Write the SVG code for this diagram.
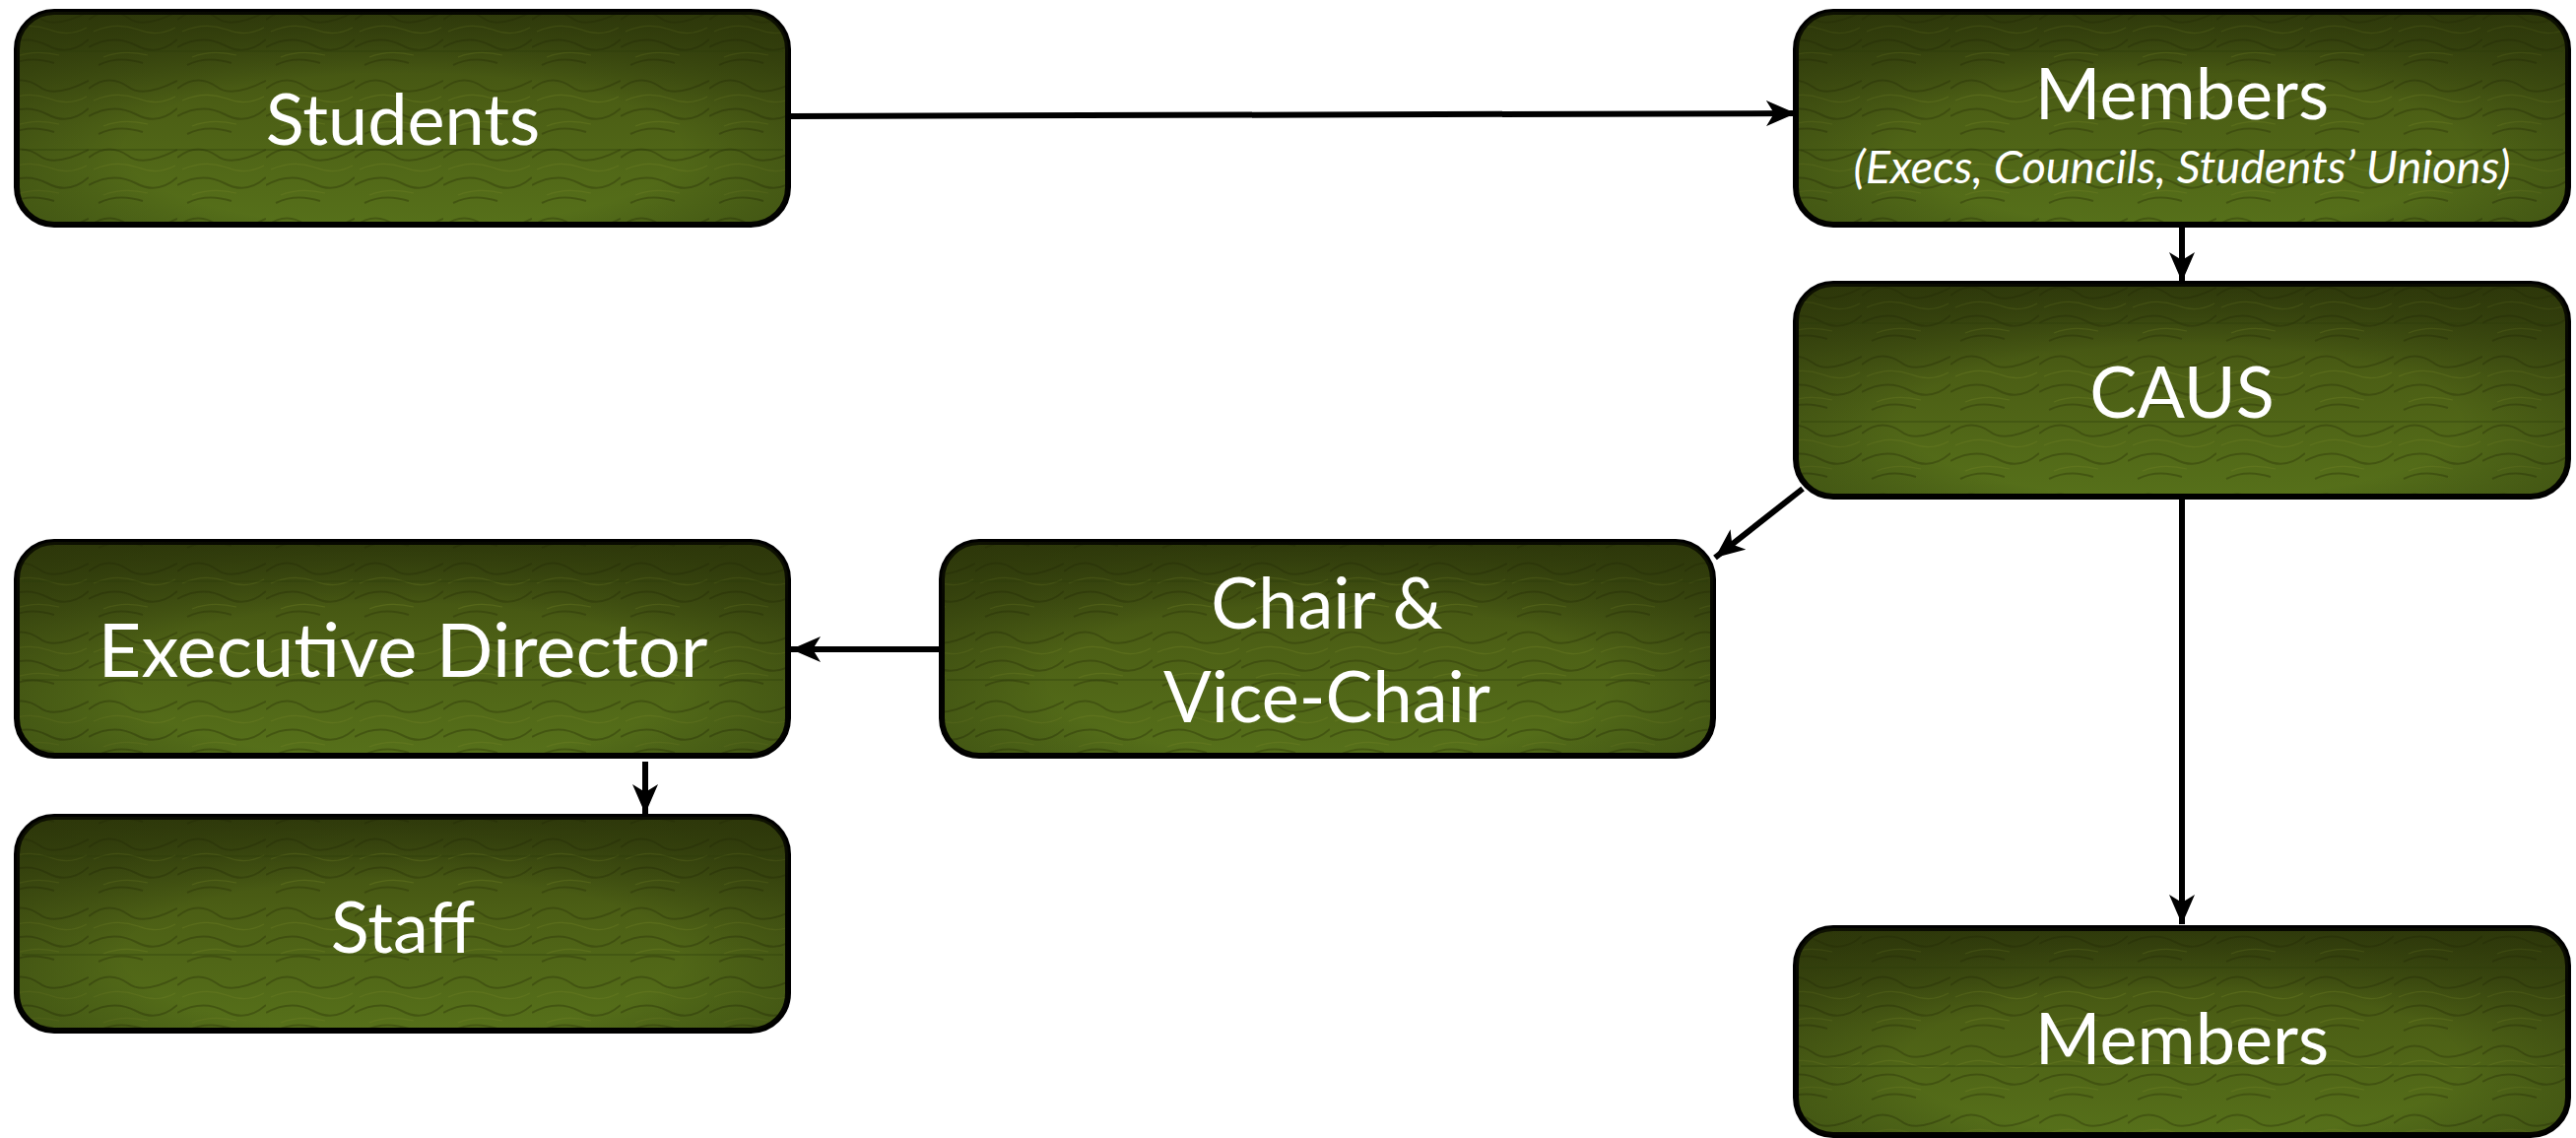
<svg xmlns="http://www.w3.org/2000/svg" width="2615" height="1155" viewBox="0 0 2615 1155">
<style>
.box{stroke:#000;stroke-width:6}
.tex{fill:url(#tex);stroke:none;opacity:0.4}
.band{fill:none;stroke:#2c3a0a;stroke-width:2;opacity:0.3}
.t{font-family:"Lato","Open Sans","DejaVu Sans",sans-serif;fill:#fff;text-anchor:middle;font-size:72px}
.s{font-family:"Lato","Open Sans","DejaVu Sans",sans-serif;fill:#fff;text-anchor:middle;font-size:47px;font-style:italic}
.c{stroke:#000;stroke-width:6;fill:none;marker-end:url(#ah)}
</style>
<defs>
<linearGradient id="g" x1="0" y1="0" x2="0" y2="1">
<stop offset="0" stop-color="#3c4a0f"/>
<stop offset="0.45" stop-color="#4c5f15"/>
<stop offset="1" stop-color="#56701a"/>
</linearGradient>
<radialGradient id="v" cx="0.5" cy="0.65" r="0.8">
<stop offset="0.45" stop-color="#000" stop-opacity="0"/>
<stop offset="1" stop-color="#1e2404" stop-opacity="0.5"/>
</radialGradient>
<pattern id="tex" width="90" height="70" patternUnits="userSpaceOnUse">
<path d="M0,20 Q20,4 40,18 Q55,30 90,12 M0,48 Q25,34 48,46 Q70,58 90,40 M10,66 Q30,56 55,64" fill="none" stroke="#2a3306" stroke-width="2"/>
<path d="M5,32 Q28,22 50,30 Q70,38 88,28 M15,58 Q35,50 60,56" fill="none" stroke="#6e7f22" stroke-width="1.2"/>
</pattern>
<marker id="ah" markerUnits="userSpaceOnUse" markerWidth="30" markerHeight="26" refX="30" refY="13" orient="auto">
<path d="M0,0 L30,13 L0,26 L8,13 z" fill="#000"/>
</marker>
</defs>
<rect width="2615" height="1155" fill="#fff"/>

<g id="connectors">
<line class="c" x1="803" y1="118" x2="1823" y2="115"/>
<line class="c" x1="2215" y1="231" x2="2215" y2="286"/>
<line class="c" x1="1830" y1="496" x2="1741" y2="566"/>
<line class="c" x1="2215" y1="504" x2="2215" y2="938"/>
<line class="c" x1="956" y1="659" x2="803" y2="659"/>
<line class="c" x1="655" y1="773" x2="655" y2="826"/>
</g>

<g id="students">
<rect class="box" x="17" y="12" width="783" height="216" rx="38" fill="url(#g)"/>
<rect class="tex" x="20" y="15" width="777" height="210" rx="35"/>
<rect x="17" y="12" width="783" height="216" rx="38" fill="url(#v)"/>
<path class="band" d="M22,52 H795 M22,152 H795"/>
<text class="t" x="409" y="147">Students</text>
</g>

<g id="members-top">
<rect class="box" x="1823" y="12" width="784" height="216" rx="38" fill="url(#g)"/>
<rect class="tex" x="1826" y="15" width="778" height="210" rx="35"/>
<rect x="1823" y="12" width="784" height="216" rx="38" fill="url(#v)"/>
<path class="band" d="M1828,52 H2602 M1828,152 H2602"/>
<text class="t" x="2215" y="121">Members</text>
<text class="s" x="2215" y="186">(Execs, Councils, Students’ Unions)</text>
</g>

<g id="caus">
<rect class="box" x="1823" y="288" width="784" height="216" rx="38" fill="url(#g)"/>
<rect class="tex" x="1826" y="291" width="778" height="210" rx="35"/>
<rect x="1823" y="288" width="784" height="216" rx="38" fill="url(#v)"/>
<path class="band" d="M1828,328 H2602 M1828,428 H2602"/>
<text class="t" x="2215" y="424">CAUS</text>
</g>

<g id="chair">
<rect class="box" x="956" y="550" width="783" height="217" rx="38" fill="url(#g)"/>
<rect class="tex" x="959" y="553" width="777" height="211" rx="35"/>
<rect x="956" y="550" width="783" height="217" rx="38" fill="url(#v)"/>
<path class="band" d="M961,590 H1734 M961,690 H1734"/>
<text class="t" x="1347" y="638">Chair &amp;</text>
<text class="t" x="1347" y="733">Vice-Chair</text>
</g>

<g id="executive-director">
<rect class="box" x="17" y="550" width="783" height="217" rx="38" fill="url(#g)"/>
<rect class="tex" x="20" y="553" width="777" height="211" rx="35"/>
<rect x="17" y="550" width="783" height="217" rx="38" fill="url(#v)"/>
<path class="band" d="M22,590 H795 M22,690 H795"/>
<text class="t" x="409" y="687" style="font-size:76px">Executive Director</text>
</g>

<g id="staff">
<rect class="box" x="17" y="829" width="783" height="217" rx="38" fill="url(#g)"/>
<rect class="tex" x="20" y="832" width="777" height="211" rx="35"/>
<rect x="17" y="829" width="783" height="217" rx="38" fill="url(#v)"/>
<path class="band" d="M22,869 H795 M22,969 H795"/>
<text class="t" x="409" y="967">Staff</text>
</g>

<g id="members-bottom">
<rect class="box" x="1823" y="942" width="784" height="210" rx="38" fill="url(#g)"/>
<rect class="tex" x="1826" y="945" width="778" height="204" rx="35"/>
<rect x="1823" y="942" width="784" height="210" rx="38" fill="url(#v)"/>
<path class="band" d="M1828,982 H2602 M1828,1082 H2602"/>
<text class="t" x="2215" y="1080">Members</text>
</g>
</svg>
